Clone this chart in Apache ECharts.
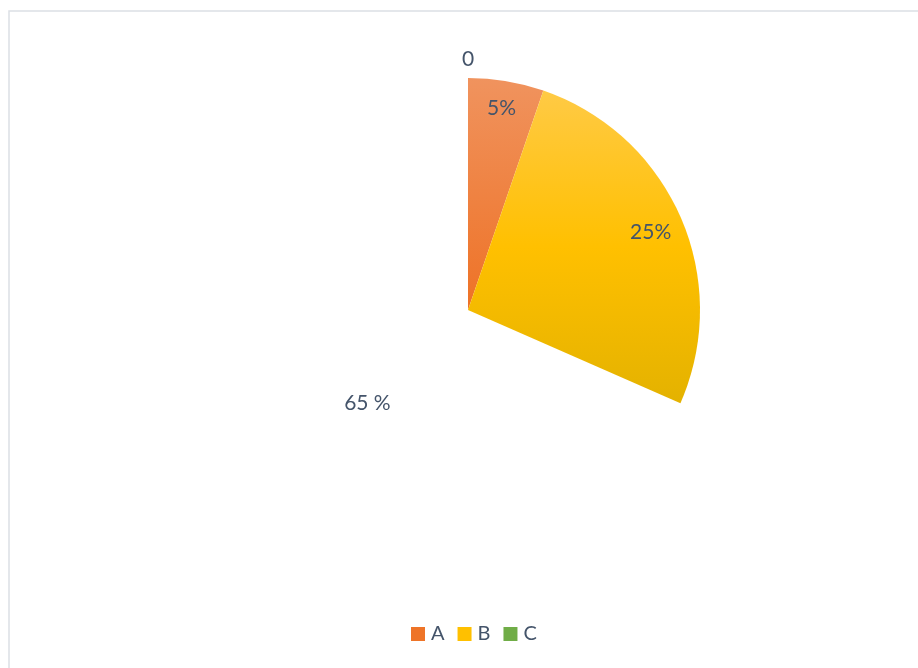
<!DOCTYPE html>
<html>
<head>
<meta charset="utf-8">
<script src="https://cdn.jsdelivr.net/npm/echarts@6/dist/echarts.min.js"></script>
<style>html,body{margin:0;padding:0;background:#fff}#c{width:918px;height:668px}</style>
</head>
<body>
<div id="c"></div>
<script>
var categories = ['A', 'B', 'C', ''];
var values = [5, 25, 65, 0];
var labelTexts = ['5%', '25%', '65 %', '0'];
var legendNames = ['A', 'B', 'C'];

var CX = 468, CY = 310, R = 232;
var labelRadiusFrac = [0.88, 0.86, 0.59, 1.08];
var labelExtra = [[0, 0], [0, 2], [14, 18], [0, 0]];

var colors = [
  {type:'linear',x:0,y:0,x2:0,y2:1,colorStops:[{offset:0,color:'#F0935E'},{offset:1,color:'#EE7226'}]},
  {type:'linear',x:0,y:0,x2:0,y2:1,colorStops:[{offset:0,color:'#FFCA45'},{offset:0.5,color:'#FFC000'},{offset:1,color:'#E4B200'}]},
  'rgba(0,0,0,0)',
  'rgba(0,0,0,0)'
];
var legendColors = ['#EE7428', '#FFC000', '#70AD47'];

var data = categories.map(function(c, i){
  return {name: c === '' ? ' ' : c, value: values[i], itemStyle: {color: colors[i]}};
});

var chart = echarts.init(document.getElementById('c'), null, {renderer:'canvas'});
chart.setOption({
  animation: false,
  color: legendColors,
  graphic: [{
    type: 'rect', shape: {x: 9, y: 11, width: 1000, height: 1000},
    style: {fill: 'none', stroke: '#DCE0E5', lineWidth: 1.5}, silent: true
  }],
  legend: {
    data: legendNames.map(function(n, i){ return {name: n, itemStyle: {color: legendColors[i]}}; }),
    bottom: 19, left: 406,
    icon: 'rect', itemWidth: 14, itemHeight: 14, itemGap: 13,
    textStyle: {fontFamily: 'Lato', fontSize: 20, color: '#44546A', padding: [0, 0, 0, 1]}
  },
  series: [{
    type: 'pie',
    center: [CX, CY],
    radius: [0, R],
    startAngle: 90,
    clockwise: true,
    avoidLabelOverlap: false,
    stillShowZeroSum: true,
    minShowLabelAngle: 0,
    data: data,
    label: {
      show: true, position: 'inside',
      fontFamily: 'Lato', fontSize: 21, color: '#44546A',
      formatter: function(p){ return labelTexts[p.dataIndex]; }
    },
    labelLine: {show: false},
    labelLayout: function(p){
      var r = p.labelRect;
      var lx = r.x + r.width / 2, ly = r.y + r.height / 2;
      var vx = lx - CX, vy = ly - CY;
      var d = Math.sqrt(vx*vx + vy*vy) || 1;
      var t = labelRadiusFrac[p.dataIndex] * R / d;
      var e = labelExtra[p.dataIndex];
      return {dx: vx * t - vx + e[0], dy: vy * t - vy + e[1]};
    },
    emphasis: {disabled: true}
  }]
});
</script>
</body>
</html>
